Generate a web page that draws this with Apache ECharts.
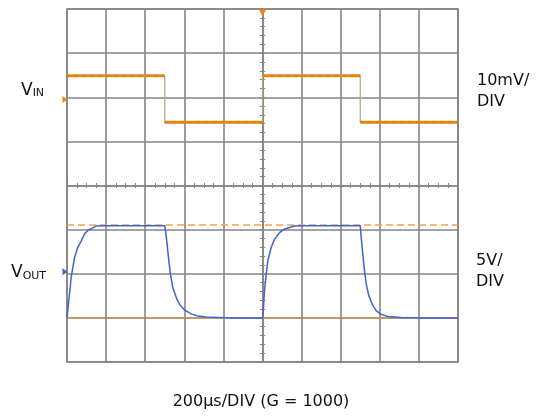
<!DOCTYPE html>
<html>
<head>
<meta charset="utf-8">
<script src="https://cdn.jsdelivr.net/npm/echarts@6/dist/echarts.min.js"></script>
<style>
  html, body { margin: 0; padding: 0; background: #ffffff; }
  #chart { width: 536px; height: 416px; }
</style>
</head>
<body>
<div id="chart"></div>
<script>
// Time base: 200 µs per division, 10 divisions across
const timeMinUs = 0;
const timeMaxUs = 2000;
const timeDivUs = 200;

// Input square wave (mV, referenced to its ground marker)
const vinEdgesUs = [0, 500, 1000, 1500, 2000];
const vinLevelsMv = [5.35, -5.15, 5.35, -5.15];

// Amplified output (V) sampled along the trace
const voutTimeUs = [
  0, 7.7, 12.8, 21.5, 29.7, 38.4, 55, 72.6, 89.5, 106, 132, 149, 200, 500,
  504, 512, 521, 529, 541, 559, 575, 601, 635, 669, 712, 830, 1000,
  1005, 1010, 1019, 1027, 1044, 1061, 1087, 1112, 1138, 1164, 1200, 1500,
  1505, 1513, 1522, 1531, 1544, 1561, 1582, 1608, 1641, 1709, 1800, 2000
];
const voutVolts = [
  -5.0, -3.4, -2.3, -0.4, 0.7, 1.8, 3.0, 3.7, 4.5, 4.9, 5.2, 5.4, 5.45, 5.45,
  4.85, 3.35, 1.45, -0.05, -1.55, -2.7, -3.45, -4.1, -4.55, -4.8, -4.9, -5.0, -5.0,
  -3.8, -1.95, -0.05, 1.45, 2.95, 3.9, 4.65, 5.05, 5.25, 5.4, 5.45, 5.45,
  4.1, 2.2, 0.3, -1.2, -2.5, -3.45, -4.2, -4.6, -4.85, -4.95, -5.0, -5.0
];

// Output reference levels
const voutHighRefV = 5.55;
const voutLowRefV = -5.0;

// Vertical scales
const vinScaleMv = [-59.5, 20.5];   // 10 mV/DIV, 8 divisions
const voutScaleV = [-10, 30];       // 5 V/DIV, 8 divisions

const vinLabel = ['V', 'IN'];
const voutLabel = ['V', 'OUT'];
const vinScaleText = '10mV/\nDIV';
const voutScaleText = '5V/\nDIV';
const timeBaseText = '200µs/DIV (G = 1000)';

const FONT = '"DejaVu Sans", "Liberation Sans", sans-serif';
const GRID_COLOR = '#858585';
const ORANGE = '#e8870f';
const BLUE = '#3f62d4';

// Build trace data from the arrays above
const vinStep = [];
const vinFlats = [];
for (let i = 0; i < vinLevelsMv.length; i++) {
  vinStep.push([vinEdgesUs[i], vinLevelsMv[i]], [vinEdgesUs[i + 1], vinLevelsMv[i]]);
  vinFlats.push([vinEdgesUs[i], vinLevelsMv[i]], [vinEdgesUs[i + 1], vinLevelsMv[i]]);
  if (i < vinLevelsMv.length - 1) vinFlats.push([vinEdgesUs[i + 1], '-']);
}
const voutData = voutTimeUs.map((t, i) => [t, voutVolts[i]]);

const chart = echarts.init(document.getElementById('chart'), null, { renderer: 'canvas' });

const hiddenAxisParts = {
  axisLine: { show: false }, axisTick: { show: false },
  axisLabel: { show: false }, splitLine: { show: false }
};

const centerTickX = (inside) => ({
  type: 'value', min: timeMinUs, max: timeMaxUs, interval: timeDivUs / 4,
  axisLine: { show: !inside, onZero: true, onZeroAxisIndex: 2,
    lineStyle: { color: GRID_COLOR, width: 1.5 } },
  axisTick: { show: true, inside: inside, length: 2.5,
    lineStyle: { color: GRID_COLOR, width: 1 } },
  axisLabel: { show: false }, splitLine: { show: false }
});

const centerTickY = (inside) => ({
  type: 'value', min: -4, max: 4, interval: 0.2,
  axisLine: { show: !inside, onZero: true, onZeroAxisIndex: 3,
    lineStyle: { color: GRID_COLOR, width: 1.5 } },
  axisTick: { show: true, inside: inside, length: 2.7,
    lineStyle: { color: GRID_COLOR, width: 1 } },
  axisLabel: { show: false }, splitLine: { show: false }
});

const subLabel = (parts, x, y) => ({
  type: 'text', x: x, y: y, silent: true,
  style: {
    text: '{v|' + parts[0] + '}{s|' + parts[1] + '}', verticalAlign: 'bottom', fill: '#111',
    rich: {
      v: { fontSize: 17, lineHeight: 17, fontFamily: FONT, verticalAlign: 'bottom', fill: '#111' },
      s: { fontSize: 11, lineHeight: 11, fontFamily: FONT, verticalAlign: 'bottom', fill: '#111' }
    }
  }
});

const option = {
  animation: false,
  backgroundColor: '#ffffff',
  grid: {
    left: 67, top: 9, width: 391, height: 353,
    show: true, borderColor: GRID_COLOR, borderWidth: 1.6, backgroundColor: 'transparent'
  },
  xAxis: [
    { type: 'value', min: timeMinUs, max: timeMaxUs, interval: timeDivUs,
      axisLine: { show: false }, axisTick: { show: false }, axisLabel: { show: false },
      splitLine: { show: true, lineStyle: { color: GRID_COLOR, width: 1.6 } } },
    centerTickX(false),
    centerTickX(true),
    Object.assign({ type: 'value', min: -5, max: 5 }, hiddenAxisParts)
  ],
  yAxis: [
    Object.assign({ type: 'value', min: vinScaleMv[0], max: vinScaleMv[1] }, hiddenAxisParts),
    Object.assign({ type: 'value', min: voutScaleV[0], max: voutScaleV[1] }, hiddenAxisParts),
    { type: 'value', min: -4, max: 4, interval: 1,
      axisLine: { show: false }, axisTick: { show: false }, axisLabel: { show: false },
      splitLine: { show: true, lineStyle: { color: GRID_COLOR, width: 1.6 } } },
    centerTickY(false),
    centerTickY(true)
  ],
  series: [
    {
      name: 'VIN edges', type: 'line', xAxisIndex: 0, yAxisIndex: 0,
      data: vinStep, showSymbol: false, z: 3,
      lineStyle: { color: '#b3a488', width: 1.2 }
    },
    {
      name: 'VIN', type: 'line', xAxisIndex: 0, yAxisIndex: 0,
      data: vinFlats, showSymbol: false, connectNulls: false, z: 4,
      lineStyle: { color: ORANGE, width: 3 },
      markPoint: {
        silent: true, label: { show: false },
        data: [
          { coord: [timeMaxUs / 2, vinScaleMv[1]], symbol: 'triangle', symbolRotate: 180,
            symbolSize: [8, 7], symbolOffset: [0, 3.5], itemStyle: { color: ORANGE } },
          { coord: [timeMinUs, 0], symbol: 'triangle', symbolRotate: -90,
            symbolSize: [7, 5], symbolOffset: [-2, 0], itemStyle: { color: ORANGE } }
        ]
      }
    },
    {
      name: 'VIN texture', type: 'line', xAxisIndex: 0, yAxisIndex: 0,
      data: vinFlats, showSymbol: false, connectNulls: false, z: 5,
      lineStyle: { color: 'rgba(110,70,25,0.22)', width: 1, type: [3, 5] }
    },
    {
      name: 'VOUT levels', type: 'line', xAxisIndex: 0, yAxisIndex: 1,
      data: [], z: 5,
      markLine: {
        silent: true, symbol: 'none', label: { show: false },
        data: [
          { yAxis: voutHighRefV, lineStyle: { color: '#f4a24c', width: 1.5, type: [7, 4] } },
          { yAxis: voutLowRefV, lineStyle: { color: '#e98a1d', width: 1.5, type: [2, 2] } }
        ]
      }
    },
    {
      name: 'VOUT', type: 'line', xAxisIndex: 0, yAxisIndex: 1,
      data: voutData, showSymbol: false, z: 6,
      lineStyle: { color: BLUE, width: 1.5 },
      markPoint: {
        silent: true, label: { show: false },
        data: [
          { coord: [timeMinUs, 0], symbol: 'triangle', symbolRotate: -90,
            symbolSize: [7, 5], symbolOffset: [-2, -2], itemStyle: { color: BLUE } }
        ]
      }
    }
  ],
  graphic: [
    subLabel(vinLabel, 21, 99),
    subLabel(voutLabel, 11, 281.5),
    { type: 'text', x: 477, y: 70.5, silent: true,
      style: { text: vinScaleText, font: '16px ' + FONT, lineHeight: 21, fill: '#111', verticalAlign: 'top' } },
    { type: 'text', x: 476, y: 250.5, silent: true,
      style: { text: voutScaleText, font: '16px ' + FONT, lineHeight: 21, fill: '#111', verticalAlign: 'top' } },
    { type: 'text', x: 261, y: 402, silent: true,
      style: { text: timeBaseText, font: '16px ' + FONT, fill: '#111', align: 'center', verticalAlign: 'middle' } }
  ]
};

chart.setOption(option);
</script>
</body>
</html>
